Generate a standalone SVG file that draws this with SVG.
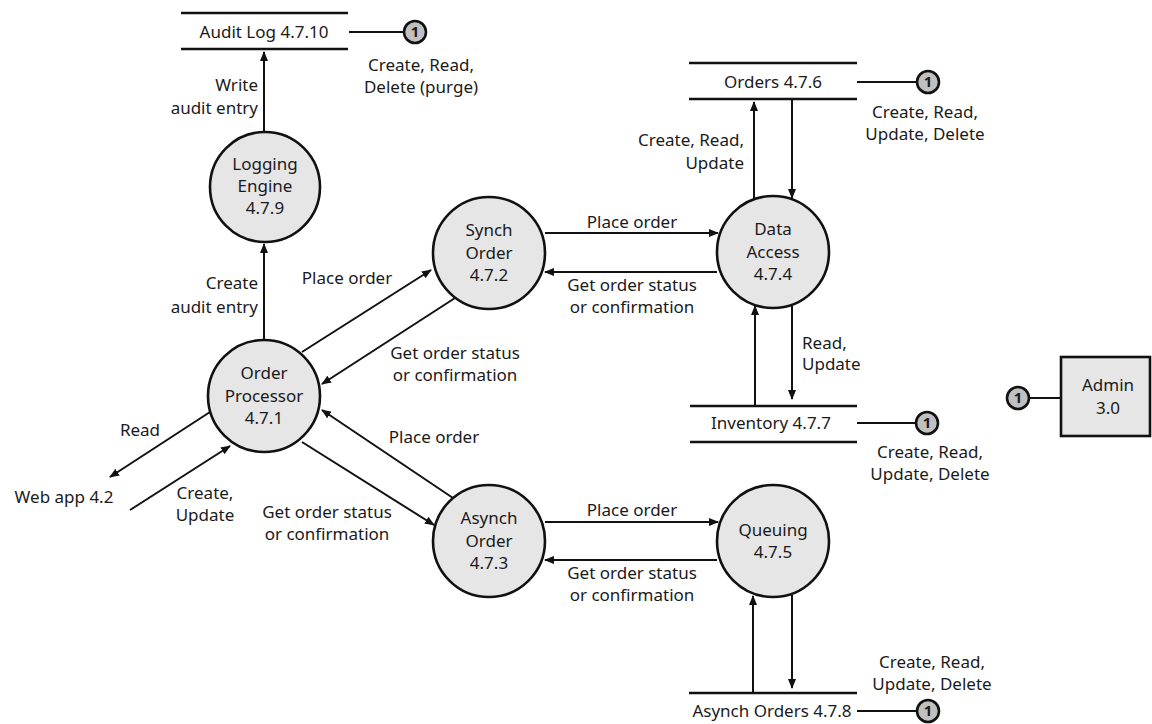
<svg xmlns="http://www.w3.org/2000/svg" width="1152" height="724" viewBox="0 0 1152 724">
<style>
text{font-family:"Noto Sans","Open Sans","DejaVu Sans",sans-serif;font-size:17px;fill:#1a1a1a}
.c{text-anchor:middle}
.r{text-anchor:end}
.proc{fill:#e6e6e6;stroke:#111;stroke-width:2.6}
.store{stroke:#111;stroke-width:2.3;fill:none}
.ln{stroke:#111;stroke-width:2;fill:none}
.ar{stroke:#111;stroke-width:2;fill:none;marker-end:url(#ah)}
.one{fill:#c0c0c0;stroke:#111;stroke-width:2.6}
.onet{font-weight:bold;font-size:15px;text-anchor:middle}
</style>
<defs>
<marker id="ah" markerUnits="userSpaceOnUse" markerWidth="10" markerHeight="8" refX="9" refY="4" orient="auto">
<path d="M0,0 L10,4 L0,8 z" fill="#111"/>
</marker>
</defs>
<rect width="1152" height="724" fill="#fff"/>

<g id="connectors">
<line class="ar" x1="264" y1="131" x2="264" y2="52"/>
<line class="ar" x1="264" y1="340" x2="264" y2="244"/>
<line class="ar" x1="302" y1="352" x2="431" y2="270"/>
<line class="ar" x1="455" y1="298" x2="322" y2="384"/>
<line class="ar" x1="453" y1="498" x2="322" y2="410"/>
<line class="ar" x1="302" y1="442" x2="434" y2="525"/>
<line class="ar" x1="210" y1="412" x2="110" y2="477"/>
<line class="ar" x1="130" y1="510" x2="230" y2="446"/>
<line class="ar" x1="545" y1="233" x2="718" y2="233"/>
<line class="ar" x1="717" y1="272" x2="545" y2="272"/>
<line class="ar" x1="545" y1="522" x2="718" y2="522"/>
<line class="ar" x1="717" y1="560" x2="545" y2="560"/>
<line class="ar" x1="754" y1="199" x2="754" y2="102"/>
<line class="ar" x1="792" y1="99" x2="792" y2="198"/>
<line class="ar" x1="755" y1="406" x2="755" y2="306"/>
<line class="ar" x1="792" y1="306" x2="792" y2="399"/>
<line class="ar" x1="753" y1="693" x2="753" y2="596"/>
<line class="ar" x1="792" y1="595" x2="792" y2="688"/>
<line class="ln" x1="349" y1="32" x2="404" y2="32"/>
<line class="ln" x1="857" y1="82" x2="917" y2="82"/>
<line class="ln" x1="857" y1="423" x2="916" y2="423"/>
<line class="ln" x1="857" y1="711" x2="917" y2="711"/>
<line class="ln" x1="1029" y1="398" x2="1061" y2="398"/>
</g>

<g id="audit-log">
<line class="store" x1="181" y1="13" x2="348" y2="13"/>
<line class="store" x1="181" y1="49" x2="348" y2="49"/>
<text class="c" x="264" y="38">Audit Log 4.7.10</text>
</g>
<g id="audit-ref">
<circle class="one" cx="415" cy="32" r="11"/>
<text class="onet" x="415" y="37">1</text>
</g>
<g id="orders">
<line class="store" x1="689" y1="63" x2="857" y2="63"/>
<line class="store" x1="689" y1="99" x2="857" y2="99"/>
<text class="c" x="773" y="88">Orders 4.7.6</text>
</g>
<g id="orders-ref">
<circle class="one" cx="928" cy="82" r="11"/>
<text class="onet" x="928" y="87">1</text>
</g>
<g id="inventory">
<line class="store" x1="690" y1="406" x2="857" y2="406"/>
<line class="store" x1="690" y1="442" x2="857" y2="442"/>
<text class="c" x="771" y="429">Inventory 4.7.7</text>
</g>
<g id="inventory-ref">
<circle class="one" cx="927" cy="423" r="11"/>
<text class="onet" x="927" y="428">1</text>
</g>
<g id="asynch-orders">
<line class="store" x1="689" y1="693" x2="857" y2="693"/>
<text class="c" x="772" y="717">Asynch Orders 4.7.8</text>
</g>
<g id="asynch-orders-ref">
<circle class="one" cx="928" cy="711" r="11"/>
<text class="onet" x="928" y="716">1</text>
</g>
<g id="admin">
<rect x="1061" y="357" width="89" height="79" fill="#e6e6e6" stroke="#111" stroke-width="2.6"/>
<text class="c" x="1108" y="391">Admin</text>
<text class="c" x="1108" y="414">3.0</text>
</g>
<g id="admin-ref">
<circle class="one" cx="1018" cy="398" r="11"/>
<text class="onet" x="1018" y="403">1</text>
</g>

<g id="logging-engine">
<circle class="proc" cx="265" cy="187" r="55"/>
<text class="c" x="265" y="170">Logging</text>
<text class="c" x="265" y="192">Engine</text>
<text class="c" x="265" y="214">4.7.9</text>
</g>
<g id="order-processor">
<circle class="proc" cx="264" cy="396" r="56"/>
<text class="c" x="264" y="379">Order</text>
<text class="c" x="264" y="402">Processor</text>
<text class="c" x="264" y="424">4.7.1</text>
</g>
<g id="synch-order">
<circle class="proc" cx="489" cy="253" r="56"/>
<text class="c" x="489" y="236">Synch</text>
<text class="c" x="489" y="259">Order</text>
<text class="c" x="489" y="281">4.7.2</text>
</g>
<g id="asynch-order">
<circle class="proc" cx="489" cy="541" r="56"/>
<text class="c" x="489" y="524">Asynch</text>
<text class="c" x="489" y="547">Order</text>
<text class="c" x="489" y="569">4.7.3</text>
</g>
<g id="data-access">
<circle class="proc" cx="773" cy="252" r="56"/>
<text class="c" x="773" y="235">Data</text>
<text class="c" x="773" y="258">Access</text>
<text class="c" x="773" y="280">4.7.4</text>
</g>
<g id="queuing">
<circle class="proc" cx="773" cy="541" r="56"/>
<text class="c" x="773" y="536">Queuing</text>
<text class="c" x="773" y="558">4.7.5</text>
</g>
<g id="web-app">
<text class="c" x="64" y="503">Web app 4.2</text>
</g>

<g id="labels">
<text class="c" x="421" y="71">Create, Read,</text>
<text class="c" x="421" y="93">Delete (purge)</text>
<text class="r" x="258" y="91">Write</text>
<text class="r" x="258" y="114">audit entry</text>
<text class="r" x="258" y="289">Create</text>
<text class="r" x="258" y="313">audit entry</text>
<text class="c" x="347" y="284">Place order</text>
<text class="c" x="455" y="359">Get order status</text>
<text class="c" x="455" y="381">or confirmation</text>
<text class="c" x="434" y="443">Place order</text>
<text class="c" x="327" y="518">Get order status</text>
<text class="c" x="327" y="540">or confirmation</text>
<text class="c" x="140" y="436">Read</text>
<text class="c" x="205" y="499">Create,</text>
<text class="c" x="205" y="521">Update</text>
<text class="c" x="632" y="228">Place order</text>
<text class="c" x="632" y="291">Get order status</text>
<text class="c" x="632" y="313">or confirmation</text>
<text class="c" x="632" y="516">Place order</text>
<text class="c" x="632" y="579">Get order status</text>
<text class="c" x="632" y="601">or confirmation</text>
<text class="r" x="744" y="146">Create, Read,</text>
<text class="r" x="744" y="169">Update</text>
<text class="c" x="925" y="118">Create, Read,</text>
<text class="c" x="925" y="140">Update, Delete</text>
<text x="802" y="349">Read,</text>
<text x="802" y="370">Update</text>
<text class="c" x="930" y="458">Create, Read,</text>
<text class="c" x="930" y="480">Update, Delete</text>
<text class="c" x="932" y="668">Create, Read,</text>
<text class="c" x="932" y="690">Update, Delete</text>
</g>
</svg>
